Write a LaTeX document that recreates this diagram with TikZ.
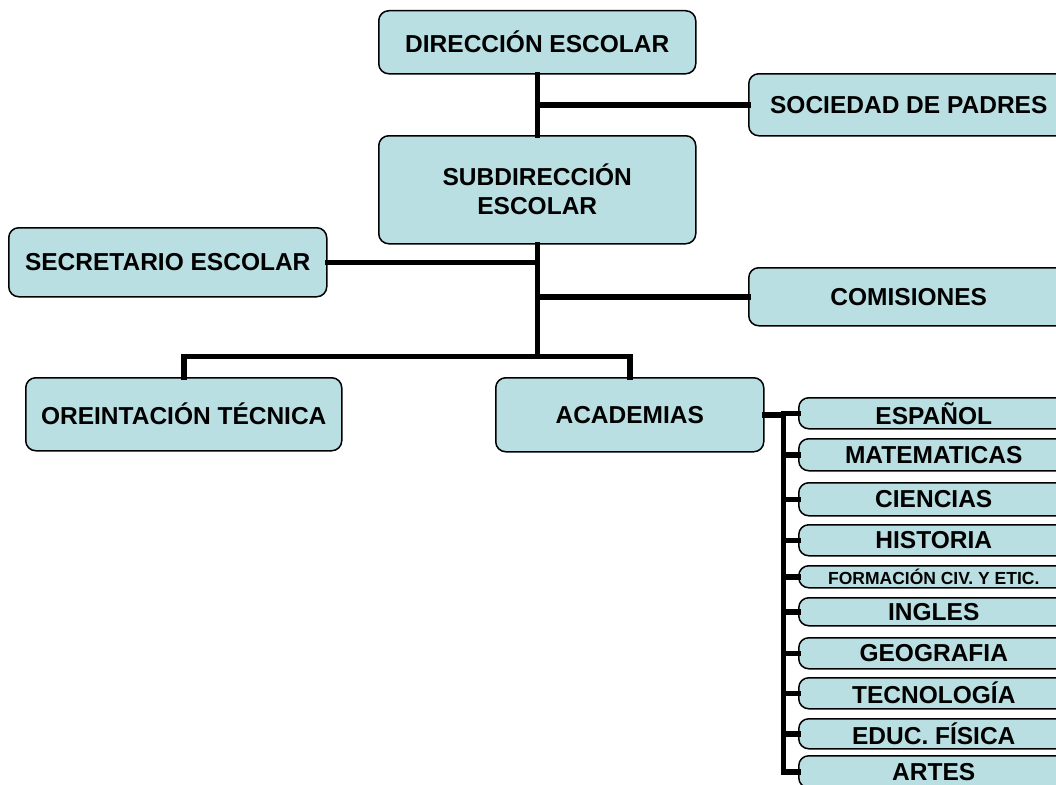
\documentclass[tikz,border=0pt]{standalone}
\usepackage{fontspec}
\setmainfont{Liberation Sans}
\usepackage{xcolor}
\usepackage{tikz}
\usetikzlibrary{positioning, calc}

\definecolor{cajaazul}{RGB}{185,223,227}

\tikzset{
  caja/.style={draw=black, line width=1.5pt, fill=cajaazul,
    rounded corners=10pt, anchor=north west, align=center,
    inner sep=2pt, font=\fontsize{24.5}{29}\selectfont\bfseries},
  enlace/.style={line width=5.5pt, line cap=rect, line join=miter}
}

\begin{document}
\begin{tikzpicture}[x=1pt, y=-1pt]
  \useasboundingbox (0,0) rectangle (1056,784);
  \clip (0,0) rectangle (1056,784);

  % primer nivel
  \node[caja, minimum width=317pt, minimum height=63pt]
    (direccion) at (378,10) {DIRECCIÓN ESCOLAR};
  \node[caja, minimum width=320pt, minimum height=62pt]
    (padres) at (748,73) {SOCIEDAD DE PADRES};
  \node[caja, minimum width=317pt, minimum height=108pt]
    (subdir) at (378,135) {SUBDIRECCIÓN\\ESCOLAR};
  \node[caja, minimum width=318pt, minimum height=69pt]
    (secretario) at (8,227) {SECRETARIO ESCOLAR};
  \node[caja, minimum width=320pt, minimum height=58pt]
    (comisiones) at (748,267) {COMISIONES};

  % segundo nivel
  \node[caja, minimum width=316pt, minimum height=73pt]
    (orient) at (25,377) {OREINTACIÓN TÉCNICA};
  \node[caja, minimum width=268pt, minimum height=74pt]
    (academias) at (495,377) {ACADEMIAS};

  % materias
  \foreach \i/\top/\alto/\txt in {
      1/397/31/ESPAÑOL,
      2/438/32/MATEMATICAS,
      3/482/33/CIENCIAS,
      4/524/31/HISTORIA,
      5/565/22/{\fontsize{17.5}{17.5}\selectfont FORMACIÓN CIV. Y ETIC.},
      6/597/28/INGLES,
      7/637/31/GEOGRAFIA,
      8/677/31/TECNOLOGÍA,
      9/718/30/EDUC. FÍSICA,
      10/755/32/ARTES}
    \node[caja, minimum width=270pt, minimum height=\alto pt, inner sep=0pt]
      (m\i) at (798,\top) {\txt};

  % conectores
  \coordinate (tronco) at ($(subdir.south)+(0,112)$);
  \draw[enlace] (direccion.south) -- (subdir.north);
  \draw[enlace] (subdir.south) -- (tronco);
  \draw[enlace] (padres.west) -- (padres.west -| direccion.south);
  \draw[enlace] (secretario.east) -- (secretario.east -| subdir.south);
  \draw[enlace] (comisiones.west) -- (comisiones.west -| subdir.south);
  \draw[enlace] (orient.north) |- (tronco) -| (academias.north);

  \coordinate (espina) at ($(academias.east)+(19,0)$);
  \draw[enlace] (academias.east) -- (espina) -- (espina |- m10.west);
  \foreach \i in {1,...,10}
    \draw[enlace] (espina |- m\i.west) -- (m\i.west);
\end{tikzpicture}
\end{document}
